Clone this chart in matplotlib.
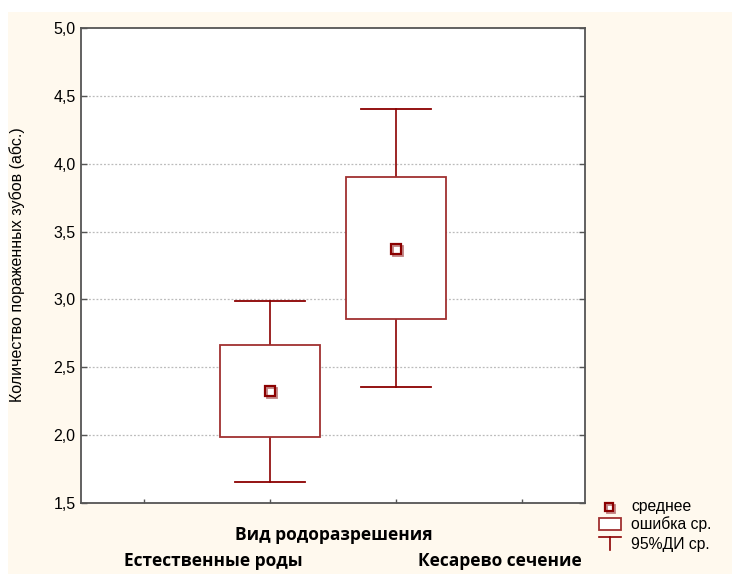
import matplotlib.pyplot as plt
import matplotlib.transforms as mtransforms
from matplotlib.patches import Rectangle

# group statistics: mean, mean +/- SE, 95% CI
groups = ['Естественные роды', 'Кесарево сечение']
means = [2.325, 3.375]
se_low = [1.985, 2.856]
se_high = [2.662, 3.900]
ci_low = [1.658, 2.355]
ci_high = [2.992, 4.402]
positions = [1, 2]

dark_red = '#8B0000'
box_red = '#A03030'
shadow_red = '#C08080'
cream = '#FFF9EE'

W, H = 732, 574
fig = plt.figure(figsize=(W / 100, H / 100), dpi=100)
fig.patch.set_facecolor('white')
fig.patches.append(Rectangle((8 / W, 0), 1 - 8 / W, 1 - 12 / H,
                             transform=fig.transFigure, facecolor=cream,
                             edgecolor='none', zorder=-10))

ax = fig.add_axes([81 / W, 1 - 503 / H, (585 - 81) / W, (503 - 28) / H])
ax.set_facecolor('white')

box_w = 0.8
cap_w = 0.56
for x, m, sl, sh, cl, ch in zip(positions, means, se_low, se_high, ci_low, ci_high):
    # whiskers (95% CI)
    ax.plot([x, x], [cl, sl], color=dark_red, lw=1.2, zorder=3)
    ax.plot([x, x], [sh, ch], color=dark_red, lw=1.2, zorder=3)
    ax.plot([x - cap_w / 2, x + cap_w / 2], [cl, cl], color=dark_red, lw=1.3, zorder=3)
    ax.plot([x - cap_w / 2, x + cap_w / 2], [ch, ch], color=dark_red, lw=1.3, zorder=3)
    # standard error box
    ax.add_patch(Rectangle((x - box_w / 2, sl), box_w, sh - sl, facecolor='white',
                           edgecolor=box_red, lw=1.3, zorder=4))
    # mean marker with a small shadow
    shadow = mtransforms.offset_copy(ax.transData, fig=fig, x=1.5, y=-1.5, units='points')
    ax.plot([x], [m], marker='s', ms=6.5, mfc='white', mec=shadow_red, mew=1.3,
            transform=shadow, zorder=5)
    ax.plot([x], [m], marker='s', ms=6.5, mfc='none', mec=dark_red, mew=1.6, zorder=6)

ax.set_xlim(-0.5, 3.5)
ax.set_ylim(1.5, 5.0)
ax.set_xticks([0, 1, 2, 3])
ax.set_xticklabels([])
yt = [1.5, 2.0, 2.5, 3.0, 3.5, 4.0, 4.5, 5.0]
ax.set_yticks(yt)
ax.set_yticklabels([f'{v:.1f}'.replace('.', ',') for v in yt],
                   family=['Liberation Sans', 'DejaVu Sans'], fontsize=11.5)
ax.tick_params(direction='in', length=4, width=1, color='#555555',
               right=True, top=False, pad=4)
ax.tick_params(axis='x', length=3)
for g in [2.0, 2.5, 3.0, 3.5, 4.0, 4.5]:
    ax.axhline(g, color='#BBBBBB', lw=0.9, ls=(0, (1.5, 1.5)), zorder=1)
for s in ax.spines.values():
    s.set_color('#555555')
    s.set_linewidth(1.3)

fig.text(17 / W, 1 - 265 / H, 'Количество пораженных зубов (абс.)', rotation=90,
         ha='center', va='center', family=['Liberation Sans', 'DejaVu Sans'],
         fontsize=11.5)

bold = dict(family=['Open Sans', 'DejaVu Sans'], fontweight='bold', fontsize=12.5,
            ha='center', va='center')
fig.text(334 / W, 1 - 535 / H, 'Вид родоразрешения', **bold)
fig.text(213 / W, 1 - 561 / H, groups[0], **bold)
fig.text(500 / W, 1 - 561 / H, groups[1], **bold)

# legend drawn in figure pixels
leg = fig.add_axes([0, 0, 1, 1], facecolor='none')
leg.set_xlim(0, W)
leg.set_ylim(H, 0)
leg.axis('off')
leg.plot([610.5], [508.5], marker='s', ms=6, mfc='white', mec=shadow_red, mew=1.3)
leg.plot([609], [507], marker='s', ms=6, mfc='none', mec=dark_red, mew=1.6)
leg.add_patch(Rectangle((599, 518), 22, 12, facecolor='white', edgecolor=box_red, lw=1.3))
leg.plot([599, 621], [537, 537], color=dark_red, lw=1.2)
leg.plot([610, 610], [537, 550], color=dark_red, lw=1.2)
lt = dict(family=['Liberation Sans', 'DejaVu Sans'], fontsize=11.3, va='center')
leg.text(631, 506, 'среднее', **lt)
leg.text(631, 524, 'ошибка ср.', **lt)
leg.text(631, 544, '95%ДИ ср.', **lt)

fig.savefig('out.png', dpi=100)
